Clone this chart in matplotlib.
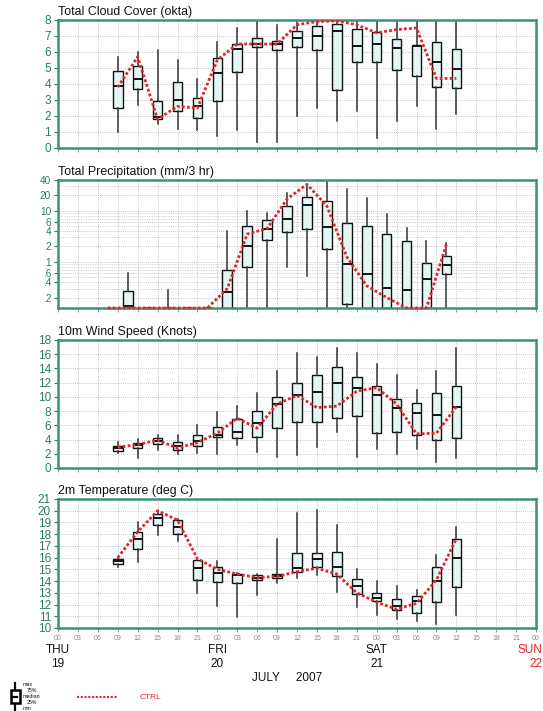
import numpy as np
import matplotlib
matplotlib.use("Agg")
import matplotlib.pyplot as plt
from matplotlib.patches import Rectangle
from matplotlib.lines import Line2D

plt.rcParams['font.family'] = ['Liberation Sans', 'DejaVu Sans']

# ---------------- data ----------------
hours = [9, 12, 15, 18, 21, 24, 27, 30, 33, 36, 39, 42, 45, 48, 51, 54, 57, 60]
precip_hours = [10.5, 13.5, 16.5, 19.5, 22.5, 25.5, 28.5, 31.5, 34.5, 37.5, 40.5,
                43.5, 46.5, 49.5, 52.5, 55.5, 58.5]
ctrl_precip_hours = [7.5] + precip_hours

cloud_min = [1.0, 2.7, 1.5, 1.2, 1.1, 0.75, 1.1, 0.4, 0.35, 2.0, 2.5, 1.7, 2.3, 0.6, 1.7, 2.6, 1.2, 2.1]
cloud_q1 = [2.5, 3.7, 1.8, 2.3, 1.9, 2.95, 4.75, 6.3, 6.15, 6.3, 6.15, 3.6, 5.35, 5.35, 4.9, 4.5, 3.8, 3.75]
cloud_med = [3.9, 4.3, 1.95, 3.0, 2.6, 4.7, 6.2, 6.5, 6.5, 6.85, 7.0, 7.3, 6.4, 6.5, 6.25, 6.4, 5.35, 4.95]
cloud_q3 = [4.8, 5.1, 2.95, 4.1, 3.1, 5.6, 6.5, 6.9, 6.7, 7.3, 7.6, 7.75, 7.45, 7.25, 6.8, 6.45, 6.65, 6.2]
cloud_max = [5.7, 6.0, 6.1, 5.5, 4.3, 6.6, 7.5, 8.0, 7.7, 8.0, 8.0, 8.0, 8.0, 8.0, 8.0, 8.0, 8.0, 8.0]
cloud_ctrl = [3.8, 5.7, 1.8, 2.6, 2.5, 5.5, 6.5, 6.5, 6.5, 7.7, 7.9, 7.95, 7.7, 7.2, 7.4, 7.5, 4.35, 4.35]

precip_min = [0, 0, 0, 0, 0, 0, 0, 0, 0.8, 0.52, 0, 0, 0, 0, 0, 0, 0]
precip_q1 = [0, 0, 0, 0, 0, 0, 0.8, 2.7, 3.8, 4.3, 1.75, 0.15, 0, 0, 0, 0, 0.59]
precip_med = [0.135, 0, 0, 0, 0, 0.26, 2.05, 4.3, 6.9, 12.7, 4.8, 0.9, 0.59, 0.31, 0.28, 0.47, 0.85]
precip_q3 = [0.27, 0, 0, 0, 0, 0.7, 5.0, 6.7, 12.5, 19.0, 15.6, 5.8, 5.0, 3.5, 2.6, 0.96, 1.3]
precip_max = [0.6, 0, 0.28, 0, 0, 4.0, 10.0, 9.0, 22.0, 30.0, 40.0, 27.0, 18.0, 8.7, 4.7, 2.6, 2.3]
precip_ctrl = [0, 0, 0, 0, 0, 0, 0.3, 3.5, 4.5, 17.0, 33.0, 12.4, 1.25, 0.34, 0.2, 0, 0, 2.2]

wind_min = [2.1, 1.4, 2.6, 1.9, 2.1, 1.9, 3.2, 2.3, 1.5, 1.8, 3.0, 5.1, 1.6, 2.7, 1.9, 2.7, 0.8, 1.4]
wind_q1 = [2.4, 2.8, 3.4, 2.6, 3.1, 4.4, 4.2, 4.3, 5.6, 6.5, 6.5, 7.1, 7.3, 4.9, 5.1, 4.7, 3.9, 4.2]
wind_med = [2.8, 3.2, 3.8, 3.1, 3.8, 4.6, 5.1, 6.3, 9.0, 10.2, 10.7, 11.9, 11.3, 10.2, 8.5, 7.7, 7.4, 8.6]
wind_q3 = [3.1, 3.5, 4.2, 3.6, 4.6, 5.7, 6.9, 8.0, 10.0, 12.0, 13.1, 14.2, 12.8, 11.6, 9.7, 9.1, 10.5, 11.5]
wind_max = [3.6, 4.1, 4.6, 4.7, 6.0, 7.9, 8.7, 10.6, 13.7, 16.2, 15.6, 16.9, 16.2, 14.6, 13.1, 10.9, 13.7, 16.9]
wind_ctrl = [2.9, 3.3, 3.9, 2.8, 3.6, 4.9, 7.0, 5.6, 9.0, 10.2, 8.5, 8.7, 10.8, 11.3, 9.0, 4.8, 4.9, 8.6]

temp_min = [15.2, 15.6, 17.9, 17.4, 13.0, 11.9, 10.9, 12.8, 13.8, 14.3, 14.5, 13.1, 11.8, 11.1, 10.8, 10.6, 10.3, 11.1]
temp_q1 = [15.5, 16.7, 18.8, 18.0, 14.1, 13.9, 13.8, 14.1, 14.3, 14.8, 15.2, 14.4, 12.9, 12.3, 11.5, 11.3, 12.2, 13.5]
temp_med = [15.75, 17.6, 19.4, 18.6, 15.1, 14.7, 14.5, 14.3, 14.4, 15.1, 15.9, 15.2, 13.6, 12.6, 11.9, 12.3, 14.0, 16.0]
temp_q3 = [15.9, 18.2, 19.7, 19.2, 15.8, 15.2, 14.6, 14.5, 14.6, 16.4, 16.4, 16.5, 14.2, 13.0, 12.5, 12.7, 15.2, 17.6]
temp_max = [16.0, 19.0, 20.0, 19.3, 15.9, 15.7, 14.7, 14.6, 17.6, 19.8, 20.1, 18.8, 15.0, 14.0, 13.6, 13.2, 16.2, 18.6]
temp_ctrl = [16.0, 18.2, 20.0, 19.2, 15.9, 15.0, 14.6, 14.3, 14.4, 14.8, 15.1, 14.6, 13.0, 12.2, 11.6, 12.1, 14.1, 17.6]

titles = ["Total Cloud Cover (okta)", "Total Precipitation (mm/3 hr)",
          "10m Wind Speed (Knots)", "2m Temperature (deg C)"]
hour_ticks = list(range(0, 73, 3))
hour_labels = ["00", "03", "06", "09", "12", "15", "18", "21"] * 3 + ["00"]
days = ["THU", "FRI", "SAT", "SUN"]
day_nums = ["19", "20", "21", "22"]
day_hours = [0, 24, 48, 72]

precip_yticks = [0.2, 0.4, 0.6, 1, 2, 4, 6, 10, 20, 40]
precip_ylabels = [".2", ".4", ".6", "1", "2", "4", "6", "10", "20", "40"]

# ---------------- style ----------------
FRAME = "#3a9274"
TICKC = "#2b7a68"
BOXFILL = "#e3f6f4"
RED = "#e2252b"
GRIDC = "#b5b5b5"

fig = plt.figure(figsize=(5.43, 7.11), dpi=100)
L, W = 58 / 543, (536 - 58) / 543
tops = [20, 180, 340, 499]
bots = [148, 308, 468, 628]
axes = []
for t, b in zip(tops, bots):
    axes.append(fig.add_axes([L, 1 - b / 711, W, (b - t) / 711]))


def stats(lo, q1, med, q3, hi, floor=None):
    out = []
    for a, b_, c, d, e in zip(lo, q1, med, q3, hi):
        vals = [a, b_, c, d, e]
        if floor is not None:
            vals = [max(v, floor) for v in vals]
        out.append(dict(whislo=vals[0], q1=vals[1], med=vals[2], q3=vals[3],
                        whishi=vals[4], fliers=[]))
    return out


def draw_boxes(ax, pos, st):
    ax.bxp(st, positions=pos, widths=1.45, patch_artist=True, showcaps=False,
           showfliers=False, manage_ticks=False,
           boxprops=dict(facecolor=BOXFILL, edgecolor="#111111", linewidth=1.0),
           whiskerprops=dict(color="#333333", linewidth=1.1),
           medianprops=dict(color="#111111", linewidth=1.4))


def style(ax, title, show_xlabels, ylabelsize=8.5):
    ax.set_xlim(0, 72)
    ax.set_xticks(hour_ticks)
    ax.set_axisbelow(True)
    ax.grid(True, which="major", color=GRIDC, linestyle=(0, (1, 1.5)), linewidth=0.6)
    for s in ax.spines.values():
        s.set_color(FRAME)
        s.set_linewidth(1.8)
    ax.tick_params(axis="y", colors=TICKC, labelsize=ylabelsize, length=3, width=0.8, pad=2)
    ax.tick_params(axis="y", which="minor", length=0)
    ax.tick_params(axis="x", colors="#888888", length=3, width=0.6, labelsize=5, pad=2)
    if show_xlabels:
        ax.set_xticklabels(hour_labels)
    else:
        ax.set_xticklabels([])
    ax.text(0.0, 1.012, title, transform=ax.transAxes, ha="left", va="bottom",
            fontsize=8.9, color="#111111")


# Panel 1: cloud
ax = axes[0]
draw_boxes(ax, hours, stats(cloud_min, cloud_q1, cloud_med, cloud_q3, cloud_max))
ax.plot(hours, cloud_ctrl, color=RED, linestyle=(0, (1, 0.8)), linewidth=2.0, zorder=5)
ax.set_ylim(0, 8)
ax.set_yticks(range(0, 9))
style(ax, titles[0], False)

# Panel 2: precipitation (log)
ax = axes[1]
floor = 0.125
ax.set_yscale("log")
draw_boxes(ax, precip_hours,
           stats(precip_min, precip_q1, precip_med, precip_q3, precip_max, floor=floor))
ax.plot(ctrl_precip_hours, np.maximum(np.array(precip_ctrl), floor), color=RED,
        linestyle=(0, (1, 0.8)), linewidth=2.0, zorder=5, clip_on=False)
ax.set_ylim(floor, 40)
ax.set_yticks(precip_yticks)
ax.set_yticklabels(precip_ylabels)
ax.yaxis.set_minor_locator(matplotlib.ticker.LogLocator(base=10, subs=np.arange(1, 10)))
ax.yaxis.set_minor_formatter(matplotlib.ticker.NullFormatter())
style(ax, titles[1], False, ylabelsize=7.2)
ax.grid(True, which="minor", axis="y", color=GRIDC, linestyle=(0, (1, 1.5)), linewidth=0.5)

# Panel 3: wind
ax = axes[2]
draw_boxes(ax, hours, stats(wind_min, wind_q1, wind_med, wind_q3, wind_max))
ax.plot(hours, wind_ctrl, color=RED, linestyle=(0, (1, 0.8)), linewidth=2.0, zorder=5)
ax.set_ylim(0, 18)
ax.set_yticks(range(0, 19, 2))
style(ax, titles[2], False)

# Panel 4: temperature
ax = axes[3]
draw_boxes(ax, hours, stats(temp_min, temp_q1, temp_med, temp_q3, temp_max))
ax.plot(hours, temp_ctrl, color=RED, linestyle=(0, (1, 0.8)), linewidth=2.0, zorder=5)
ax.set_ylim(10, 21)
ax.set_yticks(range(10, 22))
style(ax, titles[3], True)

# day labels
trans = ax.get_xaxis_transform()
for d, n, h in zip(days, day_nums, day_hours):
    c = RED if d == "SUN" else "#111111"
    ha = "right" if d == "SUN" else "center"
    xh = 72.9 if d == "SUN" else h
    ax.text(xh, -0.17, d, transform=trans, ha=ha, va="center", fontsize=8.5,
            color=c, clip_on=False)
    ax.text(h, -0.28, n, transform=trans, ha="center", va="center", fontsize=8.5,
            color=c, clip_on=False)
ax.text(34.5, -0.39, "JULY     2007", transform=trans, ha="center", va="center",
        fontsize=8.5, color="#111111", clip_on=False)

# legend glyph (bottom-left)
lg = fig.add_axes([0, 0, 543 / 543, 30 / 711])
lg.set_xlim(0, 543)
lg.set_ylim(711, 681)
lg.axis("off")
lg.add_line(Line2D([15, 15], [683, 711], color="black", linewidth=1.6))
lg.add_patch(Rectangle((10.5, 690), 9, 13, facecolor="white", edgecolor="black",
                       linewidth=1.8, zorder=3))
lg.add_line(Line2D([13, 17], [697, 697], color="black", linewidth=1.6, zorder=4))
for txt, xx, yy in [("max", 23, 685), ("75%", 27, 691), ("median", 23, 697),
                    ("25%", 27, 702), ("min", 23, 709)]:
    lg.text(xx, yy, txt, fontsize=3.8, ha="left", va="center", color="#111111")
lg.add_line(Line2D([77, 118], [697, 697], color=RED, linestyle=(0, (1, 0.8)), linewidth=1.5))
lg.text(140, 697.5, "CTRL", fontsize=6, color=RED, ha="left", va="center")

fig.savefig("out.png", dpi=100)
